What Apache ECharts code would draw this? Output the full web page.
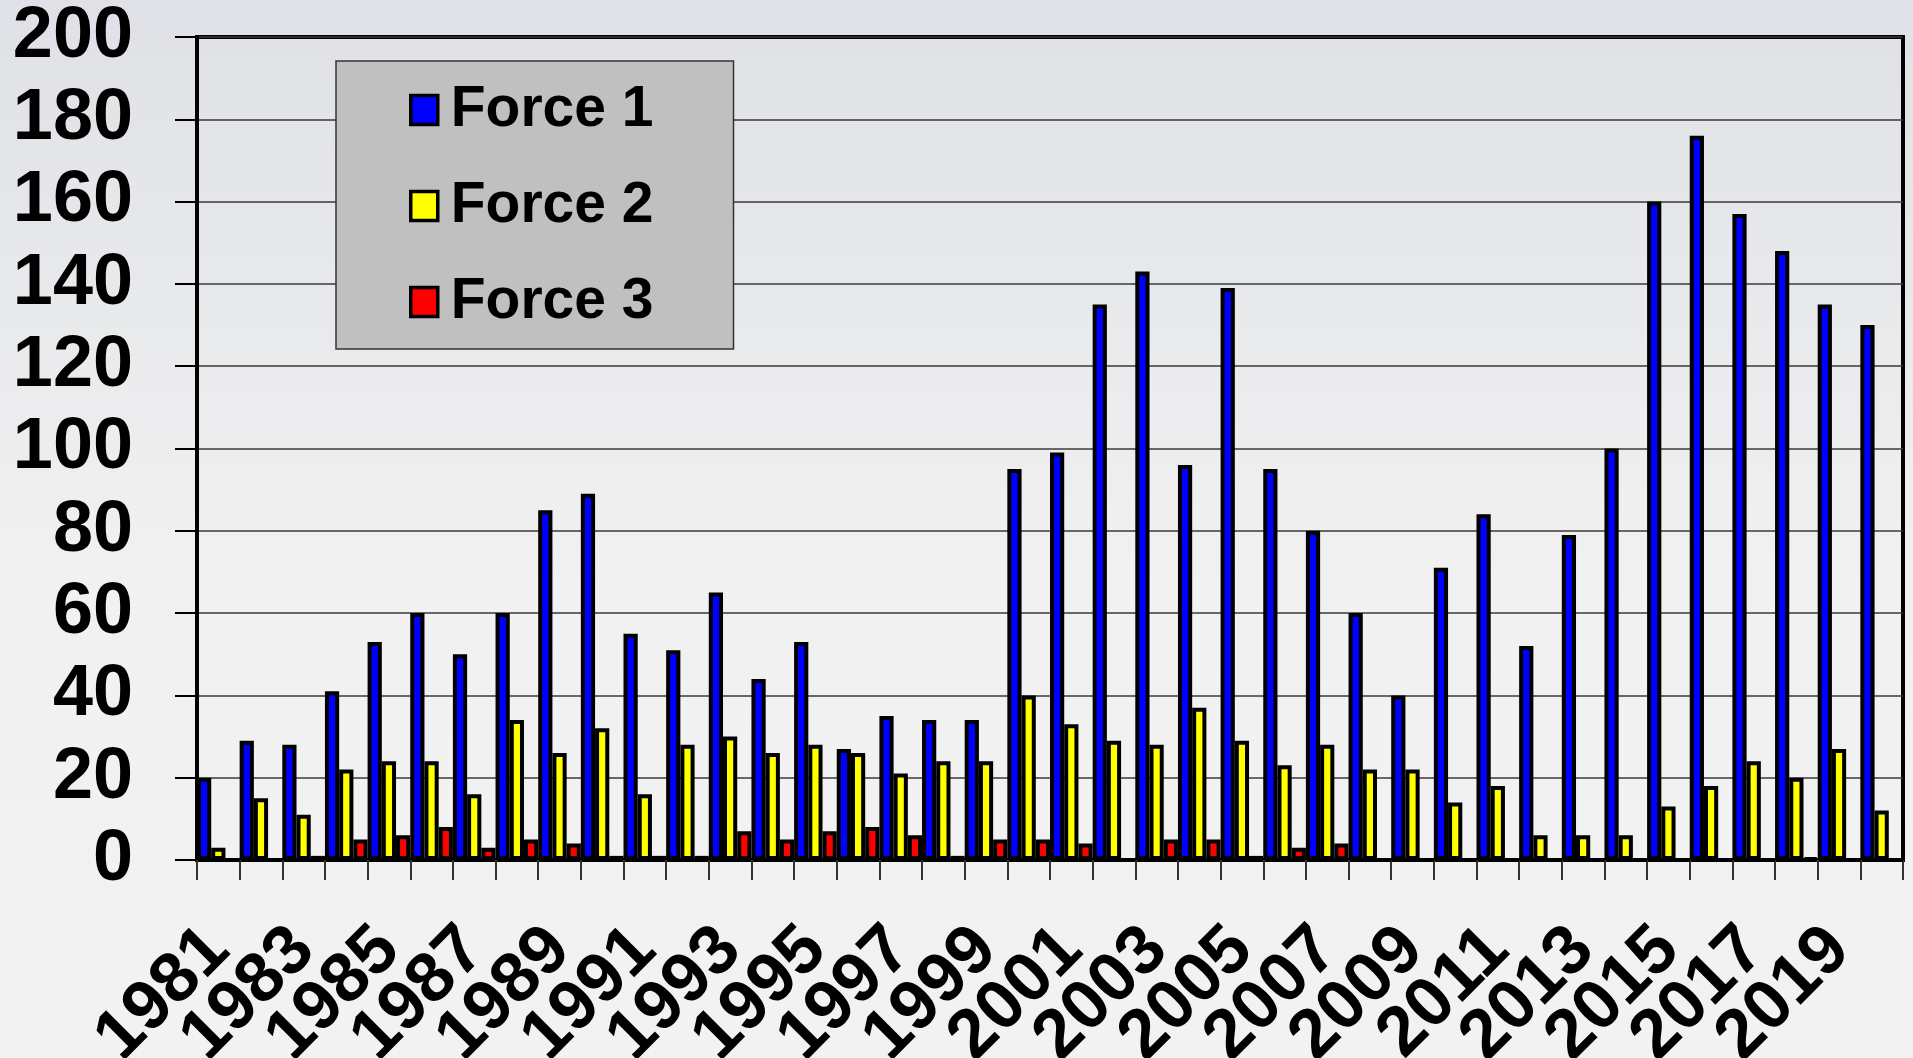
<!DOCTYPE html>
<html>
<head>
<meta charset="utf-8">
<script src="https://cdn.jsdelivr.net/npm/echarts@6/dist/echarts.min.js"></script>
<style>
    html, body { margin: 0; padding: 0; }
    #main { width: 1913px; height: 1058px; }
</style>
</head>
<body>
<div id="main"></div>
<script>
// years on the x axis
var years = ['1981','1982','1983','1984','1985','1986','1987','1988','1989','1990',
             '1991','1992','1993','1994','1995','1996','1997','1998','1999','2000',
             '2001','2002','2003','2004','2005','2006','2007','2008','2009','2010',
             '2011','2012','2013','2014','2015','2016','2017','2018','2019','2020'];

var force1 = [20, 29, 28, 41, 53, 60, 50, 60, 85, 89,
              55, 51, 65, 44, 53, 27, 35, 34, 34, 95,
              99, 135, 143, 96, 139, 95, 80, 60, 40, 71,
              84, 52, 79, 100, 160, 176, 157, 148, 135, 130];

var force2 = [3, 15, 11, 22, 24, 24, 16, 34, 26, 32,
              16, 28, 30, 26, 28, 26, 21, 24, 24, 40,
              33, 29, 28, 37, 29, 23, 28, 22, 22, 14,
              18, 6, 6, 6, 13, 18, 24, 20, 27, 12];

var force3 = [0, 0, 1, 5, 6, 8, 3, 5, 4, 1,
              1, 1, 7, 5, 7, 8, 6, 1, 5, 5,
              4, 0, 5, 5, 1, 3, 4, 0, 0, 0,
              0, 0, 0, 0, 0, 0, 0, 0.5, 0, 0];

var yTicks = [0, 20, 40, 60, 80, 100, 120, 140, 160, 180, 200];

var myChart = echarts.init(document.getElementById('main'));

function barSeries(name, data, color) {
    return {
        name: name,
        type: 'bar',
        data: data,
        barGap: '0%',
        barCategoryGap: '0%',
        itemStyle: {
            color: color,
            borderColor: '#000',
            borderWidth: 4
        }
    };
}

var option = {
    backgroundColor: {
        type: 'linear', x: 0, y: 0, x2: 0, y2: 1,
        colorStops: [
            { offset: 0, color: '#dfe1e6' },
            { offset: 0.55, color: '#f1f1f1' },
            { offset: 1, color: '#f2f2f2' }
        ]
    },
    textStyle: { fontFamily: 'Liberation Sans, Arial, sans-serif' },
    grid: {
        left: 197,
        top: 37,
        right: 10,
        bottom: 198,
        containLabel: false,
        outerBoundsMode: 'none',
        show: true,
        borderColor: '#000',
        borderWidth: 4
    },
    legend: {
        orient: 'vertical',
        left: 336,
        top: 61,
        padding: [19, 80, 17, 73],
        itemGap: 36,
        itemWidth: 27,
        itemHeight: 29,
        icon: 'rect',
        backgroundColor: '#c0c0c0',
        borderColor: '#333',
        borderWidth: 1.5,
        itemStyle: { borderColor: '#000', borderWidth: 3.5 },
        textStyle: {
            fontSize: 57,
            fontWeight: 'bold',
            color: '#000',
            lineHeight: 60,
            padding: [0, 0, 0, 8]
        },
        data: ['Force 1', 'Force 2', 'Force 3']
    },
    xAxis: {
        type: 'category',
        data: years,
        axisLine: { lineStyle: { color: '#000', width: 4 } },
        axisTick: {
            show: true,
            interval: 0,
            length: 20,
            lineStyle: { color: '#333', width: 2 }
        },
        axisLabel: {
            // every other year gets a label
            interval: 0,
            formatter: function (value, index) {
                return index % 2 === 0 ? value : '';
            },
            rotate: 45,
            margin: 79,
            fontSize: 70,
            lineHeight: 48,
            fontWeight: 'bold',
            color: '#000',
            hideOverlap: false
        }
    },
    yAxis: {
        type: 'value',
        min: yTicks[0],
        max: yTicks[yTicks.length - 1],
        interval: 20,
        axisLine: { show: true, lineStyle: { color: '#000', width: 4 } },
        axisTick: { show: true, length: 22, lineStyle: { color: '#000', width: 2 } },
        axisLabel: {
            margin: 64,
            fontSize: 72,
            fontWeight: 'bold',
            color: '#000'
        },
        splitLine: { lineStyle: { color: '#3a3a3a', width: 1.5 } }
    },
    series: [
        barSeries('Force 1', force1, '#0000ff'),
        barSeries('Force 2', force2, '#ffff00'),
        barSeries('Force 3', force3, '#ff0000')
    ]
};

myChart.setOption(option);
</script>
</body>
</html>
